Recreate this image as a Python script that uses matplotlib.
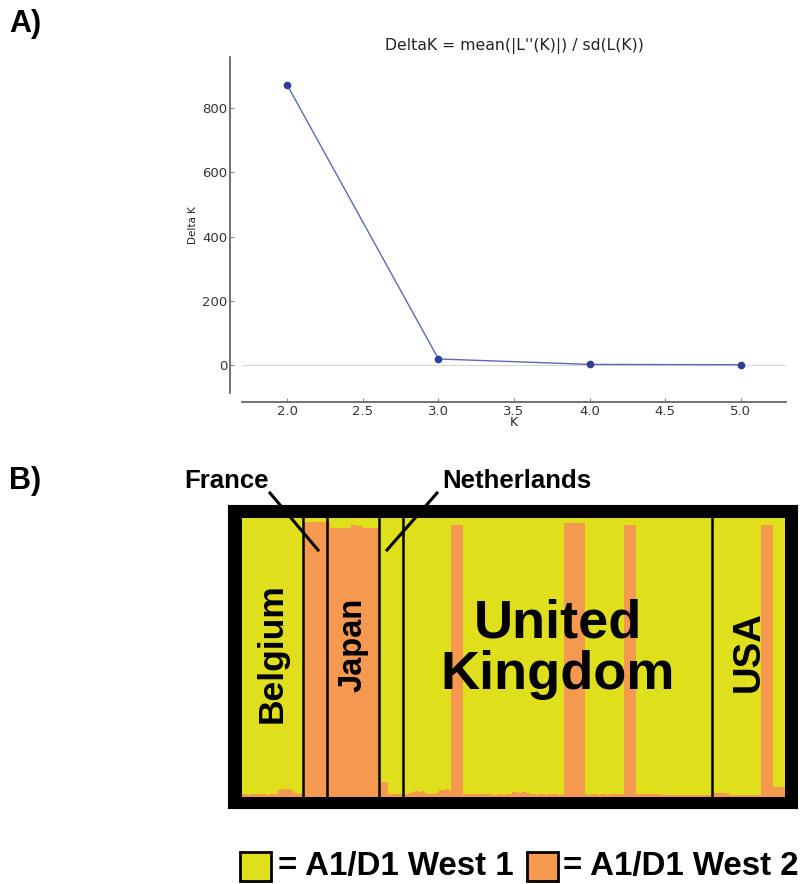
import numpy as np
import matplotlib.pyplot as plt
from matplotlib.patches import Rectangle
from matplotlib.lines import Line2D

W, H = 802, 884

# ---- A) Evanno DeltaK
k_values = [2, 3, 4, 5]
delta_k = [871, 19, 2, 1]

# ---- B) STRUCTURE bar plot, fraction of "A1/D1 West 2" per isolate
pop_names = ["Belgium", "France", "Japan", "Netherlands", "United\nKingdom", "USA"]
belgium = [0.010, 0.010, 0.008, 0.010, 0.010, 0.012, 0.010, 0.010, 0.008, 0.010,
           0.010, 0.012, 0.025, 0.030, 0.030, 0.028, 0.020, 0.015, 0.010, 0.010]
france = [0.985, 0.985, 0.985, 0.985, 0.985, 0.985, 0.985, 0.985]
japan = [0.988, 0.965, 0.965, 0.965, 0.965, 0.965, 0.965, 0.965, 0.974, 0.974,
         0.970, 0.970, 0.965, 0.965, 0.965, 0.965, 0.965]
netherlands = [0.055, 0.055, 0.055, 0.012, 0.010, 0.010, 0.010, 0.010]
uk = [0.010, 0.010, 0.015, 0.018, 0.020, 0.018, 0.020, 0.015, 0.010, 0.010,
      0.012, 0.015, 0.025, 0.025, 0.028, 0.025, 0.976, 0.976, 0.976, 0.976,
      0.010, 0.010, 0.012, 0.012, 0.010, 0.012, 0.012, 0.010, 0.010, 0.008,
      0.008, 0.010, 0.010, 0.008, 0.010, 0.012, 0.018, 0.018, 0.015, 0.018,
      0.018, 0.015, 0.010, 0.010, 0.008, 0.010, 0.010, 0.008, 0.010, 0.010,
      0.010, 0.008, 0.010, 0.982, 0.982, 0.982, 0.982, 0.982, 0.982, 0.982,
      0.010, 0.008, 0.010, 0.010, 0.008, 0.010, 0.010, 0.008, 0.012, 0.012,
      0.012, 0.012, 0.010, 0.974, 0.974, 0.974, 0.974, 0.010, 0.012, 0.012,
      0.012, 0.012, 0.012, 0.012, 0.010, 0.008, 0.008, 0.008, 0.008, 0.008,
      0.008, 0.008, 0.008, 0.008, 0.008, 0.008, 0.008, 0.008, 0.008, 0.008,
      0.008, 0.008]
usa = [0.015, 0.015, 0.015, 0.015, 0.015, 0.012, 0.008, 0.008, 0.008, 0.008,
       0.008, 0.008, 0.008, 0.008, 0.008, 0.008, 0.976, 0.976, 0.976, 0.976,
       0.037, 0.037, 0.037, 0.037]
pops = [belgium, france, japan, netherlands, uk, usa]
legend_labels = ["= A1/D1 West 1", "= A1/D1 West 2"]

yellow = '#e0df1c'
orange = '#f4994f'


def fx(x):
    return x / W


def fy(y):
    return 1 - y / H


fig = plt.figure(figsize=(W / 100, H / 100), dpi=100)
bold = dict(family='Liberation Sans', weight='bold')

# ------------------------------------------------------------------ A)
ax = fig.add_axes([fx(242), fy(393), (786 - 242) / W, (393 - 57) / H])
ax.axhline(0, color='#d6d6d6', lw=0.8, zorder=0)
ax.plot(k_values, delta_k, color='#5b69b5', lw=1.0, marker='o', ms=4.5,
        mfc='#2f3d96', mec='#2f3d96')
ax.set_xlim(1.7, 5.3)
ax.set_ylim(-87, 959)
ax.set_xticks([2.0, 2.5, 3.0, 3.5, 4.0, 4.5, 5.0])
ax.set_xticklabels(['2.0', '2.5', '3.0', '3.5', '4.0', '4.5', '5.0'])
ax.set_yticks([0, 200, 400, 600, 800])
for s in ['top', 'right']:
    ax.spines[s].set_visible(False)
ax.spines['left'].set_position(('outward', 8.6))
ax.spines['bottom'].set_position(('outward', 6.5))
for s in ['left', 'bottom']:
    ax.spines[s].set_color('#666666')
    ax.spines[s].set_linewidth(1.3)
ax.tick_params(direction='in', length=3, color='#888888', labelsize=9.5,
               labelcolor='#333333', pad=2)
ax.set_title("DeltaK = mean(|L''(K)|) / sd(L(K))", fontsize=11.3,
             color='#222222', pad=5)
ax.set_ylabel('Delta K', fontsize=7.5, color='#222222', labelpad=3)
ax.set_xlabel('K', fontsize=9, color='#222222', labelpad=-1)

fig.text(fx(9), fy(24), 'A)', fontsize=22, ha='left', va='center', **bold)
fig.text(fx(9), fy(481), 'B)', fontsize=22, ha='left', va='center', **bold)

# ------------------------------------------------------------------ B)
fr = fig.add_axes([fx(228), fy(808), (797 - 228) / W, (808 - 505) / H])
fr.set_facecolor('black')
fr.set_xticks([])
fr.set_yticks([])

west2 = np.concatenate([np.array(p) for p in pops])
west1 = 1 - west2
n = len(west2)
idx = np.arange(n)

bx = fig.add_axes([fx(242), fy(797), 543 / W, 279 / H])
bx.bar(idx, west2, width=1.0, align='edge', color=orange, lw=0,
       antialiased=False)
bx.bar(idx, west1, bottom=west2, width=1.0, align='edge', color=yellow, lw=0,
       antialiased=False)
bx.set_xlim(0, n)
bx.set_ylim(0, 1)
bx.axis('off')

bounds = np.cumsum([len(p) for p in pops])
for b in bounds[:-1]:
    bx.axvline(b, color='black', lw=1.8)

starts = np.concatenate([[0], bounds[:-1]])
centers = (starts + bounds) / 2
label_style = {
    "Belgium": (0.516, 25.5, 90),
    "Japan": (0.545, 23.5, 90),
    "United\nKingdom": (0.53, 39, 0),
    "USA": (0.52, 27.5, 90),
}
for name, c in zip(pop_names, centers):
    if name in label_style:
        yv, fs, rot = label_style[name]
        bx.text(c, yv, name, rotation=rot, fontsize=fs, ha='center',
                va='center', linespacing=1.05, **bold)

# country call-outs for the thin populations
fig.text(fx(226), fy(481), 'France', fontsize=18.5, ha='center', va='center', **bold)
fig.text(fx(517), fy(481), 'Netherlands', fontsize=18.5, ha='center', va='center', **bold)
fig.add_artist(Line2D([fx(270), fx(318)], [fy(493), fy(550)], color='black',
                      lw=2.2, transform=fig.transFigure))
fig.add_artist(Line2D([fx(437), fx(387)], [fy(493), fy(550)], color='black',
                      lw=2.2, transform=fig.transFigure))

# legend
for (x0, tx), col, lab in zip([(240, 278), (527, 563)], [yellow, orange],
                              legend_labels):
    fig.add_artist(Rectangle((fx(x0), fy(881)), 31 / W, 29 / H, fc=col,
                             ec='black', lw=2, transform=fig.transFigure))
    fig.text(fx(tx), fy(866), lab, fontsize=23.8, ha='left', va='center', **bold)

fig.savefig('out.png', dpi=100)
